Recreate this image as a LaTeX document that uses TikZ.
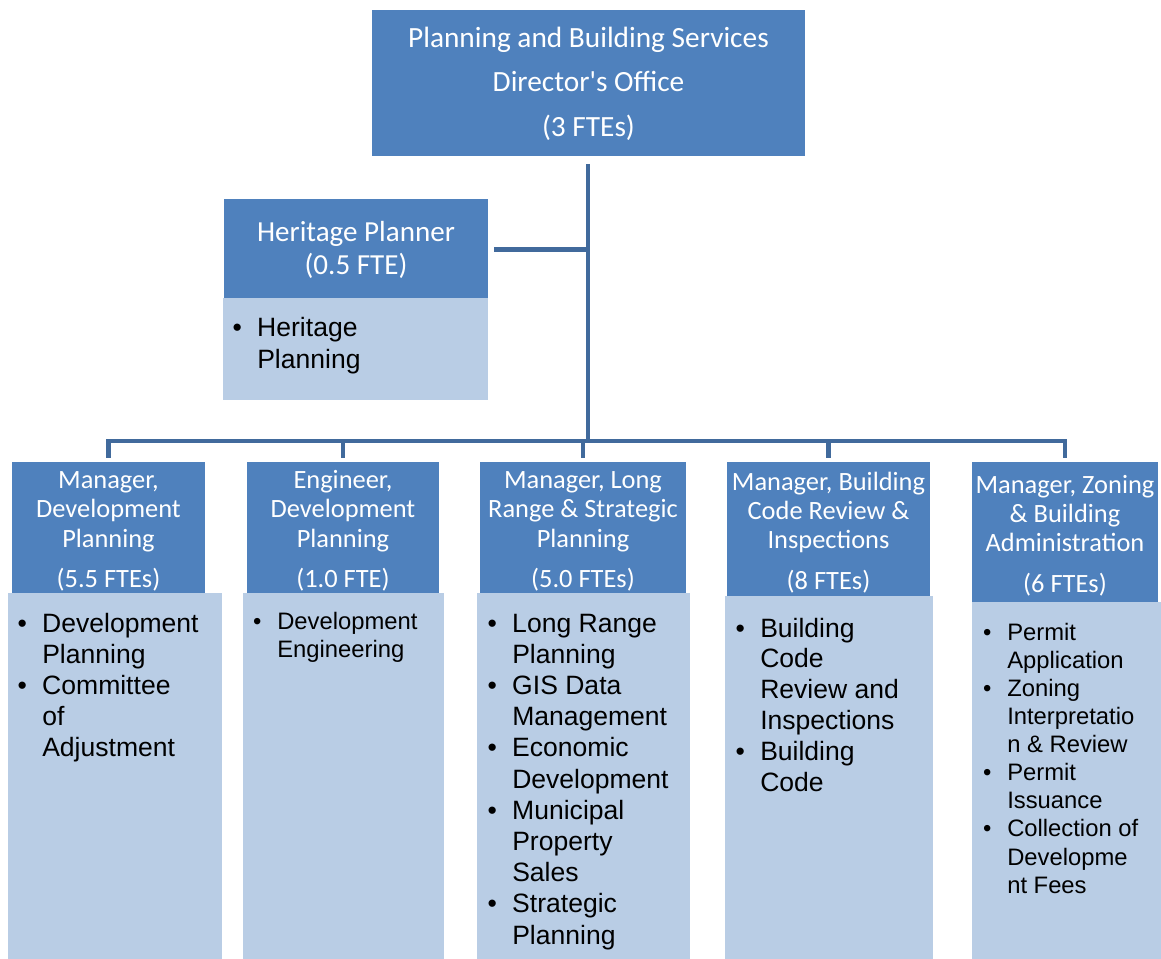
\documentclass[tikz,border=0pt]{standalone}
\usepackage{fontspec}
\setmainfont{Carlito}
\newfontfamily\arialfont{Liberation Sans}
\usetikzlibrary{calc,
                positioning
            }

\definecolor{headblue}{HTML}{4F81BD}
\definecolor{listblue}{HTML}{B9CDE5}
\definecolor{linkblue}{HTML}{416A9C}

\newcommand{\bul}{\makebox[30pt]{•}}
\newcommand{\hdtop}{\rule{0pt}{18.75pt}}

\begin{document}
\begin{tikzpicture}[x=0.75pt, y=-0.75pt,
        head/.style={fill=headblue, text=white, inner sep=0pt, align=center,
                     font=\fontsize{19.8pt}{22pt}\selectfont},
        listbox/.style={fill=listblue, inner sep=0pt},
        items/.style={anchor=base west, inner sep=0pt,
                      font=\arialfont\fontsize{19.9pt}{23.4pt}\selectfont},
        smallitems/.style={items,
                      font=\arialfont\fontsize{17.85pt}{21.1pt}\selectfont},
        link/.style={draw=linkblue, line width=3.4pt}]
            \useasboundingbox (0, 0) rectangle (1161, 959);

            % director and heritage planner
            \node[head, minimum width=324.75pt, minimum height=109.5pt,
                  font=\fontsize{22pt}{33.4pt}\selectfont] (top) at (588.5, 83.5)
                {Planning and Building Services\\Director\textquotesingle s Office\\(3 FTEs)};
            \node[head, minimum width=198pt, minimum height=75pt,
                  font=\fontsize{21.8pt}{24.8pt}\selectfont] (hp) at (356, 249.5)
                {Heritage Planner\\(0.5 FTE)};
            \node[listbox, minimum width=198.75pt, minimum height=76.5pt] (hplist) at (355.5, 349) {};
            \node[items] (hpitems) at (217, 337)
                {\begin{tabular}[t]{@{}c@{}l@{}}\bul & Heritage\\ & Planning\end{tabular}};

            % managers
            \node[head, minimum width=144.75pt, minimum height=98.25pt] (m1) at (108.5, 527.5)
                {\hdtop Manager,\\Development\\Planning\\[8.4pt](5.5 FTEs)};
            \node[head, minimum width=144pt, minimum height=98.25pt] (m2) at (343, 527.5)
                {\hdtop Engineer,\\Development\\Planning\\[8.4pt](1.0 FTE)};
            \node[head, minimum width=154.5pt, minimum height=98.25pt] (m3) at (583, 527.5)
                {\hdtop Manager, Long\\Range \& Strategic\\Planning\\[8.4pt](5.0 FTEs)};
            \node[head, minimum width=152.25pt, minimum height=100.5pt] (m4) at (828.5, 529)
                {\hdtop Manager, Building\\Code Review \&\\Inspections\\[8.4pt](8 FTEs)};
            \node[head, minimum width=139.5pt, minimum height=105pt] (m5) at (1065, 532)
                {\hdtop Manager, Zoning\\\& Building\\Administration\\[8.4pt](6 FTEs)};

            % duty lists
            \node[listbox, minimum width=160.5pt, minimum height=274.5pt] (m1list) at (115, 776) {};
            \node[listbox, minimum width=150.75pt, minimum height=274.5pt] (m2list) at (343.5, 776) {};
            \node[listbox, minimum width=159.75pt, minimum height=274.5pt] (m3list) at (583.5, 776) {};
            \node[listbox, minimum width=156pt, minimum height=272.25pt] (m4list) at (829, 777.5) {};
            \node[listbox, minimum width=141.75pt, minimum height=267.75pt] (m5list) at (1066.5, 780.5) {};

            \node[items] (m1items) at (2, 632)
                {\begin{tabular}[t]{@{}c@{}l@{}}
                    \bul & Development\\ & Planning\\
                    \bul & Committee\\ & of\\ & Adjustment
                 \end{tabular}};
            \node[smallitems] (m2items) at (237, 629)
                {\begin{tabular}[t]{@{}c@{}l@{}}
                    \bul & Development\\ & Engineering
                 \end{tabular}};
            \node[items] (m3items) at (472, 632)
                {\begin{tabular}[t]{@{}c@{}l@{}}
                    \bul & Long Range\\ & Planning\\
                    \bul & GIS Data\\ & Management\\
                    \bul & Economic\\ & Development\\
                    \bul & Municipal\\ & Property\\ & Sales\\
                    \bul & Strategic\\ & Planning
                 \end{tabular}};
            \node[items, font=\arialfont\fontsize{19.9pt}{23.1pt}\selectfont] (m4items) at (720, 637)
                {\begin{tabular}[t]{@{}c@{}l@{}}
                    \bul & Building\\ & Code\\ & Review and\\ & Inspections\\
                    \bul & Building\\ & Code
                 \end{tabular}};
            \node[smallitems] (m5items) at (967, 640)
                {\begin{tabular}[t]{@{}c@{}l@{}}
                    \bul & Permit\\ & Application\\
                    \bul & Zoning\\ & Interpretatio\\ & n \& Review\\
                    \bul & Permit\\ & Issuance\\
                    \bul & Collection of\\ & Developme\\ & nt Fees
                 \end{tabular}};

            % connectors
            \coordinate (bus) at (588, 441);
            \draw[link] ($(top.south -| bus)+(0, 7)$) -- (bus);
            \draw[link] ($(hp.east)+(6, 0)$) -- (hp.east -| bus);
            \foreach \m in {m1, m2, m3, m4, m5}
                \draw[link] ($(\m.north)+(0, -4)$) |- (bus);
        \end{tikzpicture}
\end{document}
